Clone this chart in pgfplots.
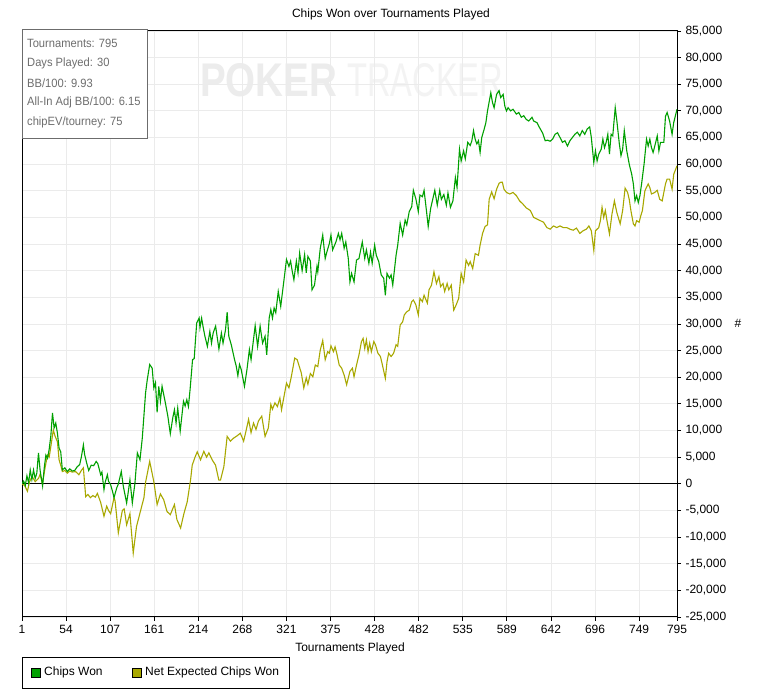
\documentclass[border=0pt]{standalone}
\usepackage{pgfplots}
\usepackage{pgfplotstable}
\pgfplotsset{compat=1.18}
\usepackage{fontspec}
\setmainfont{Liberation Sans}
\newfontfamily\statfont[FakeStretch=0.93]{Liberation Sans}
\definecolor{cwgreen}{RGB}{0,160,0}
\definecolor{neyellow}{RGB}{168,168,0}
\definecolor{gridgray}{RGB}{235,235,235}
\definecolor{statgray}{RGB}{110,110,110}
\definecolor{wmA}{RGB}{236,236,236}
\definecolor{wmB}{RGB}{243,243,243}
\newcommand\f{\fontsize{12bp}{14bp}\selectfont}

\pgfplotstableread{
u v
0 0
2 500
4 -300
6 1500
8 200
10 2600
12 800
14 2600
16 1000
18 2000
20 5800
22 2500
25 -400
27 3000
29 5400
31 4800
33 6500
35 9000
37 13300
39 10500
41 11400
43 9500
45 6700
47 6000
49 2600
52 3000
55 2300
58 2800
61 2400
64 2500
67 3200
70 3600
72 5000
74.5 7300
76 5500
78.5 3900
81 2500
84 3500
87 3400
90 4200
92 3800
95.5 1700
97 2200
99.5 -1100
101 300
103.6 1700
105 500
107.6 -200
110 -1500
111.7 -2600
114.9 -800
117 0
120.5 2300
123 -500
127 -3600
129 -1500
131 750
133.9 -3600
137 0
140 5800
143.2 4500
146 8600
150 17100
152 19500
155 22400
158 21700
160 18000
162 19000
164 13400
166 18300
168 15500
170 18300
174 15200
177 12700
180 9400
183 12400
185 13900
187 11400
189 14200
192 9900
196 15500
198 14600
200 15800
202 14500
204 17700
207 23300
209 23500
212 30200
215 31100
216 29300
218 31100
220 29300
222 27700
225 25800
228 28600
230 26400
232 28300
235 29600
239 25300
242 28300
244 26400
247 28900
249 32200
251 27700
254 26100
258 23300
260 22100
262 20300
264 22400
266 21500
270 18300
273 21400
276 25200
278 23300
281 27100
283 29700
286 25800
289 29600
292 26400
295 27700
297 24200
300 31100
302 32700
304 31100
306 33000
308 32100
311 36100
314 33300
318 38300
321 42100
324 40800
326 41800
328 39900
330 38300
333 41800
335 39600
337 43300
340 40000
343 43000
345 39600
347 42700
350 41800
352 36400
355 37300
358 40800
359 39800
362 44200
365 46700
368 42300
370 43500
373 45100
375 46700
377 43900
381 45400
384 47000
386 45800
388 47000
391 44200
393 45400
396 42300
398 37900
400 39500
403 37900
406 42000
409 42300
413 45400
416 42300
418 43900
421 41400
423 43500
425 41400
428 44800
430 42900
433 41700
436 39200
439 38600
441 35400
443 39500
446 38600
448 39200
450 37300
454 42900
456 44800
459 48900
462 46700
465 49500
467 48600
470 51100
473 52000
475 55100
478 53500
481 51100
483 54200
486 53900
488 55100
491 51100
493 48300
496 51700
501 55100
504 52300
507 55100
509 53400
512 54300
515 52300
517 54600
520 51900
523 53100
526 57500
528 55600
531 62800
533 60600
536 62500
538 61000
541 64100
544 63500
546 64400
548 66300
550 64700
552 63800
554 64400
556 62200
558 65000
561 66600
563 67800
565 70000
569 73400
571 71600
573 70600
576 73100
579 73800
581 72500
584 73100
586 70900
588 70000
590 70600
593 70000
596 70300
600 69400
603 69700
606 68800
609 69100
612 68400
615 68100
619 68800
621 68100
625 67800
628 66900
632 65800
635 64400
638 64500
641 64300
644 64700
647 65600
650 65900
653 65000
656 64100
659 64400
662 63400
665 64400
668 65000
671 65600
674 66000
677 65300
680 66300
683 65600
686 66600
689 67000
691 65000
694 60300
696 62500
698 60600
700 61900
703 62800
705 64700
707 63100
709 64100
711 65600
713 61900
715 65600
717 65300
720 70600
722 68100
725 63800
727 61600
729 62800
731 66300
734 62500
737 60000
740 58100
742 56300
744 53100
746 54100
748 52800
750 54100
752 56300
755 60000
758 64700
760 63400
762 64700
764 63100
766 62200
768 63400
771 65300
773 62500
775 64100
779 64100
781 69000
783 69700
786 68100
789 65600
791 67800
795 70300
}\chipswon

\pgfplotstableread{
u v
0 0
3 -300
6.6 -1400
9 300
11 1000
13 1200
16 400
20 1000
22 1800
24.8 0
28 3000
30.9 5400
33 5000
35 7000
38 10100
40 9000
43 7900
45 4500
47 3500
49 2300
52 2500
55 2000
58 2400
61 2200
65 2300
69 1700
72 2500
74.5 3000
77.3 -2400
80 -2000
83 -2600
86 -2200
89 -2500
91.5 -1800
95.5 -3500
99.5 -6100
102.8 -4200
105 -5000
107.6 -5600
111.7 -2600
113 -3200
116.9 -9200
121.8 -5000
124 -4700
127 -7700
131 -5600
135 -13000
139 -8000
143 -5600
148 -2600
150 300
155 4200
160 400
164 -3900
168 -1900
172 -3000
176 -5200
180 -5800
185 -3900
188 -6700
192.5 -8300
196.5 -5600
200.5 -3400
204.6 750
206.6 3500
210 5000
212.7 6000
216.7 4500
220.7 6100
224 5000
226.8 5800
230.8 4500
234.9 3500
238.9 700
240.9 700
245 3200
249 8900
253 8000
257 8600
261 9000
265 9500
269 8000
272 10000
275 12100
278 9600
281 11400
284 10200
287 11800
291 12700
295 8900
299 10500
302 14900
304 14000
307 15200
310 14500
313 16100
315 13900
318 16400
321 18900
324 18000
327 20200
331 23600
334 23300
337 21800
339 20800
342 18000
345 19900
347 18700
350 20700
353 20100
356 22300
359 22000
362 25100
365 26900
368 23300
371 24800
373 24500
375 25900
378 24800
380 25700
382 24500
385 22300
388 21700
391 20400
394 18600
398 21100
401 21700
403 20100
406 22300
409 24200
412 26700
414 27300
416 25400
418 27000
420 24800
422 26400
424 24800
427 26700
429 26100
432 24500
435 23900
437 22600
441 19800
443 22900
445 24500
448 23900
451 24500
454 26100
456 25800
459 29800
462 30400
464 31700
467 32300
470 32600
473 34200
475 34500
478 33600
481 31700
483 34800
486 34200
488 35400
492 33900
494 36400
497 37300
500 39800
503 37600
506 38900
508 37000
511 37600
513 36100
516 37600
518 36400
521 37300
524 32600
527 33600
530 34800
533 39500
536 37900
539 42000
542 41000
544 41700
547 40400
550 43200
554 42900
556 44800
559 47000
562 48300
565 48600
567 53400
570 54800
573 53500
576 55300
579 56400
581 56600
583 56600
585 55300
588 54700
592 54400
596 54700
600 54100
604 53100
608 52500
612 51800
617 51300
621 50000
625 49700
629 49400
633 49100
637 48100
641 47800
645 48400
649 48100
653 48400
657 48100
661 48100
665 47800
669 47600
673 48000
677 47000
681 47500
685 47800
688 48400
691 47500
692 46300
694 43800
696 47500
700 48100
702 49400
704 51900
706 50000
708 51300
710 49400
713 46900
716 50600
719 53100
722 50900
726 48800
729 51300
732 55500
735 54700
737 53400
739 51300
742 48800
744 48400
746 49400
749 49100
751 50300
753 51300
756 55000
760 56300
762 55600
764 54400
768 54700
771 55100
774 53400
777 53100
781 56300
783 57200
786 57200
789 55300
791 58100
795 59700
}\netexp

\begin{document}
\begin{tikzpicture}[x=1bp,y=1bp,every node/.style={font=\f}]
\useasboundingbox[fill=white] (0,0) rectangle (762,698);
% watermark
\node[anchor=south west,inner sep=0pt,text=wmA] at (200,601) {\resizebox{137bp}{33bp}{\bfseries POKER}};
\node[anchor=south west,inner sep=0pt,text=wmB] at (347,601) {\resizebox{156bp}{33bp}{TRACKER}};
\begin{axis}[
  at={(22bp,81bp)}, anchor=south west,
  scale only axis, width=655bp, height=586bp,
  xmin=0, xmax=795, ymin=-25000, ymax=85000,
  xtick={0,53.5,107,160.5,214,267.5,321,374.5,428,481.5,535,588.5,642,695.5,749,795},
  xticklabels={1,54,107,161,214,268,321,375,428,482,535,589,642,696,749,795},
  ytick={-25000,-20000,...,85000},
  xtick pos=lower, ytick pos=upper, yticklabel pos=upper,
  tick align=outside, major tick length=4bp,
  tick style={black, line width=0.8bp},
  grid=major, grid style={gridgray, line width=0.8bp},
  axis line style={black, line width=1bp},
  /pgf/number format/assume math mode=true,
  /pgf/number format/1000 sep={,},
  scaled y ticks=false,
  ticklabel style={font=\f},
  yticklabel style={anchor=west, xshift=1bp},
  xticklabel style={anchor=north, yshift=-1bp},
]
\draw[black, line width=1bp] (axis cs:0,0) -- (axis cs:795,0);
\addplot[neyellow, line width=1.1bp] table[x=u,y=v] {\netexp};
\addplot[cwgreen, line width=1.1bp] table[x=u,y=v] {\chipswon};
\end{axis}
% title and labels
\node[anchor=center] at (391,684) {Chips Won over Tournaments Played};
\node[anchor=center] at (350,50) {Tournaments Played};
\node[anchor=center] at (738,375) {\#};
% stats box
\draw[fill=white, draw=gray!85!black, line width=1bp] (22,559) rectangle (147,668);
\begin{scope}[every node/.style={font=\statfont\fontsize{12bp}{14bp}\selectfont, text=statgray, anchor=west, inner sep=0pt}]
\node at (27,655) {Tournaments: 795};
\node at (27,635) {Days Played: 30};
\node at (27,615) {BB/100: 9.93};
\node at (27,596) {All-In Adj BB/100: 6.15};
\node at (27,576) {chipEV/tourney: 75};
\end{scope}
% legend
\draw[black, line width=1bp] (22,9) rectangle (289,40);
\draw[black, fill=cwgreen, line width=0.8bp] (31.5,21) rectangle (40,29.5);
\node[anchor=west, inner sep=0pt] at (44,25.5) {Chips Won};
\draw[black, fill=neyellow, line width=0.8bp] (132.5,21) rectangle (141,29.5);
\node[anchor=west, inner sep=0pt] at (145,25.5) {Net Expected Chips Won};
\end{tikzpicture}
\end{document}
